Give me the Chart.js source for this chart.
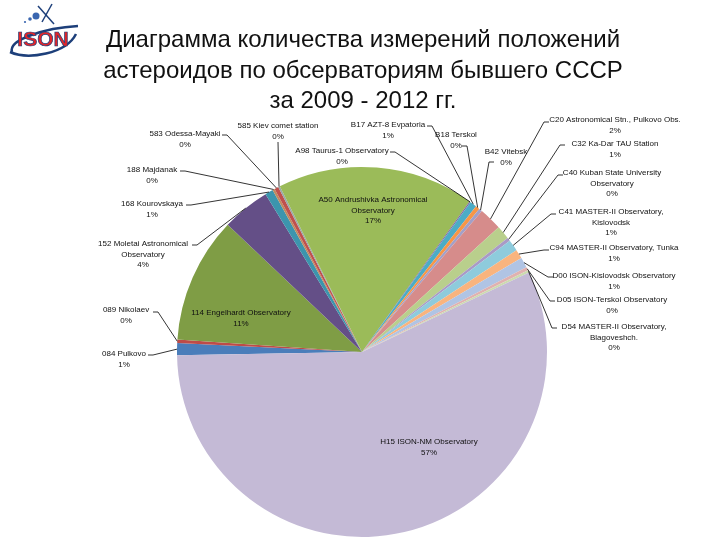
<!DOCTYPE html>
<html>
<head>
<meta charset="utf-8">
<script src="https://cdn.jsdelivr.net/npm/chart.js@4.4.0/dist/chart.umd.min.js"></script>
<style>
  body { margin: 0; background: #fff; }
  #wrap { position: relative; width: 720px; height: 540px; overflow: hidden; }
  #title {
    position: absolute; left: 0; top: 24px; width: 726px;
    text-align: center; font-family: "Liberation Sans", Arial, sans-serif;
    font-size: 24px; line-height: 30.5px; color: #111;
  }
  #logo { position: absolute; left: 4px; top: 2px; }
  canvas { position: absolute; left: 0; top: 0; }
</style>
</head>
<body>
<div id="wrap">
  <canvas id="pieChart" width="720" height="540"></canvas>
  <svg id="logo" width="80" height="58" viewBox="0 0 80 58">
    <path d="M8 50 C 4 38, 40 26, 74 24" stroke="#1d3f7a" stroke-width="2.5" fill="none"/>
    <path d="M6 50 C 24 58, 62 52, 72 32" stroke="#1d3f7a" stroke-width="2.5" fill="none"/>
    <circle cx="32" cy="14" r="3.5" fill="#3a66b0"/>
    <circle cx="26" cy="17" r="1.8" fill="#3a66b0"/>
    <circle cx="21" cy="20" r="1.1" fill="#3a66b0"/>
    <line x1="34" y1="4" x2="50" y2="22" stroke="#1d3f7a" stroke-width="1.5"/>
    <line x1="48" y1="2" x2="38" y2="20" stroke="#1d3f7a" stroke-width="1.5"/>
    <text x="39" y="44" text-anchor="middle" font-family="Liberation Sans, Arial" font-weight="bold"
          font-size="21" fill="#e0262b" stroke="#1d3f7a" stroke-width="0.7">ISON</text>
  </svg>
  <div id="title">Диаграмма количества измерений положений<br>астероидов по обсерваториям бывшего СССР<br>за 2009 - 2012 гг.</div>
</div>
<script>
// observatories, in the order of the sheet
var categories = [
  "084 Pulkovo", "089 Nikolaev", "114 Engelhardt Observatory",
  "152 Moletai Astronomical Observatory", "168 Kourovskaya", "188 Majdanak",
  "583 Odessa-Mayaki", "585 Kiev comet station",
  "A50 Andrushivka Astronomical Observatory", "A98 Taurus-1 Observatory",
  "B17 AZT-8 Evpatoria", "B18 Terskol", "B42 Vitebsk",
  "C20 Astronomical Stn., Pulkovo Obs.", "C32 Ka-Dar TAU Station",
  "C40 Kuban State University Observatory", "C41 MASTER-II Observatory, Kislovodsk",
  "C94 MASTER-II Observatory, Tunka", "D00 ISON-Kislovodsk Observatory",
  "D05 ISON-Terskol Observatory", "D54 MASTER-II Observatory, Blagoveshch.",
  "H15 ISON-NM Observatory"
];
// share of measurements, %
var shares = [
  1.05, 0.3, 11.0,
  4.2, 0.7, 0.2,
  0.35, 0.15,
  17.2, 0.1,
  0.6, 0.35, 0.3,
  2.0, 1.2,
  0.3, 1.0,
  0.8, 0.9,
  0.3, 0.2,
  56.8
];
var sliceColors = [
  '#4a7dba', '#be4b48', '#7f9d45',
  '#644f87', '#3c95ad', '#c08a5e',
  '#c0504d', '#98a8a8',
  '#9bbb59', '#8064a2',
  '#4bacc6', '#f79646', '#a2a0c8',
  '#d68c8b', '#b9cf8c',
  '#a99ac6', '#8ecbdc',
  '#f9b47e', '#b0c4e4',
  '#e0b1b0', '#ccdbb0',
  '#c4bad6'
];

// where each data label sits (cx, first line y, wrap width, leader start, leader side)
var labelPos = [
  {cx: 124, y: 354, lx: 148, ly: 355, dir: 1},
  {cx: 126, y: 310, lx: 153, ly: 312, dir: 1},
  {cx: 241, y: 313, inside: true},
  {cx: 143, y: 244, w: 110, lx: 192, ly: 245, dir: 1},
  {cx: 152, y: 204, lx: 186, ly: 205, dir: 1},
  {cx: 152, y: 170, lx: 180, ly: 171, dir: 1},
  {cx: 185, y: 134, lx: 222, ly: 135, dir: 1},
  {cx: 278, y: 126, lx: 278, ly: 142, dir: 0},
  {cx: 373, y: 200, w: 118, inside: true},
  {cx: 342, y: 151, lx: 390, ly: 152, dir: 1},
  {cx: 388, y: 125, lx: 427, ly: 126, dir: 1},
  {cx: 456, y: 135, lx: 462, ly: 146, dir: 1},
  {cx: 506, y: 152, lx: 494, ly: 162, dir: -1},
  {cx: 615, y: 120, lx: 549, ly: 122, dir: -1},
  {cx: 615, y: 144, lx: 565, ly: 145, dir: -1},
  {cx: 612, y: 173, w: 110, lx: 563, ly: 175, dir: -1},
  {cx: 611, y: 212, w: 112, lx: 556, ly: 214, dir: -1},
  {cx: 614, y: 248, lx: 549, ly: 250, dir: -1},
  {cx: 614, y: 276, lx: 553, ly: 277, dir: -1},
  {cx: 612, y: 300, lx: 555, ly: 301, dir: -1},
  {cx: 614, y: 327, w: 112, lx: 557, ly: 328, dir: -1},
  {cx: 429, y: 442, inside: true}
];

function wrapText(ctx, text, maxW) {
  var words = text.split(' ');
  var lines = [];
  var cur = '';
  words.forEach(function (w) {
    var test = cur ? cur + ' ' + w : w;
    if (cur && ctx.measureText(test).width > maxW) {
      lines.push(cur);
      cur = w;
    } else {
      cur = test;
    }
  });
  if (cur) lines.push(cur);
  return lines;
}

var pieLabels = {
  id: 'pieLabels',
  afterDatasetsDraw: function (chart) {
    var ctx = chart.ctx;
    var meta = chart.getDatasetMeta(0);
    var data = chart.data.datasets[0].data;
    var total = data.reduce(function (a, b) { return a + b; }, 0);
    ctx.save();
    ctx.font = '8px "Liberation Sans", Arial, sans-serif';
    ctx.textAlign = 'center';
    ctx.textBaseline = 'middle';
    meta.data.forEach(function (arc, i) {
      var p = labelPos[i];
      var pct = Math.round(data[i] / total * 100) + '%';
      var lines = wrapText(ctx, chart.data.labels[i], p.w || 150);
      lines.push(pct);
      if (!p.inside) {
        var a = (arc.startAngle + arc.endAngle) / 2;
        var px = arc.x + Math.cos(a) * arc.outerRadius;
        var py = arc.y + Math.sin(a) * arc.outerRadius;
        ctx.strokeStyle = '#000';
        ctx.lineWidth = 0.8;
        ctx.beginPath();
        ctx.moveTo(p.lx, p.ly);
        if (p.dir) ctx.lineTo(p.lx + p.dir * 5, p.ly);
        ctx.lineTo(px, py);
        ctx.stroke();
      }
      ctx.fillStyle = '#111';
      lines.forEach(function (t, k) {
        ctx.fillText(t, p.cx, p.y + k * 10.5);
      });
    });
    ctx.restore();
  }
};

var ctx2 = document.getElementById('pieChart').getContext('2d');
var pieChart1 = new Chart(ctx2, {
  type: 'pie',
  data: {
    labels: categories,
    datasets: [{
      data: shares,
      backgroundColor: sliceColors,
      borderWidth: 0
    }]
  },
  options: {
    responsive: false,
    animation: false,
    rotation: -91,
    layout: { padding: { left: 177, right: 173, top: 167, bottom: 3 } },
    plugins: {
      legend: { display: false },
      tooltip: { enabled: false }
    }
  },
  plugins: [pieLabels]
});
</script>
</body>
</html>
